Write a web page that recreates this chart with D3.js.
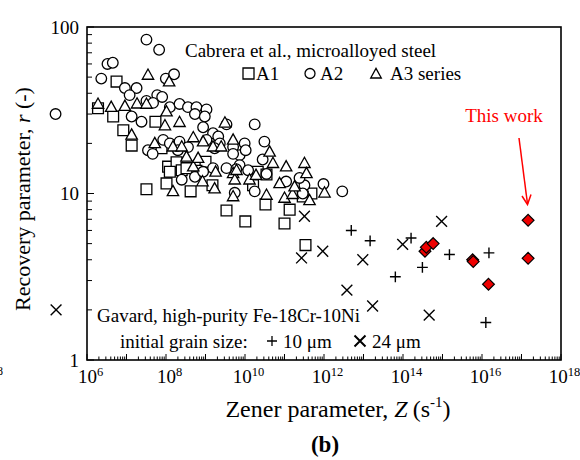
<!DOCTYPE html>
<html>
<head>
<meta charset="utf-8">
<script src="https://cdn.jsdelivr.net/npm/d3@7"></script>
<style>
  body { margin: 0; background: #fff; }
  svg { display: block; font-family: "Liberation Serif", "Times New Roman", serif; }
</style>
</head>
<body>
<div id="chart"></div>
<script>
// Cabrera et al. - A1 series (squares), [Z, r]
var a1 = [[1.9e6,32.5],[5.6e6,47],[4.6e6,29],[8.3e6,24],[1.35e7,19.4],[5.4e7,27],[1.13e8,14.5],
  [1.85e8,15.4],[1.25e8,13.5],[2.5e8,13.8],[1.0e9,15.5],[5.9e8,13.7],[3.2e7,10.6],[1.03e8,11.5],
  [4.2e8,10.3],[3.4e9,7.9],[1.02e10,6.8],[3.3e10,8.6],[1.0e11,6.6],[1.35e11,8.0],[3.4e11,4.9],
  [7.7e7,18.7],[3.3e8,14.2],[2.1e10,13.5],[3.5e10,13],[1.6e10,11.2],[4.8e11,10],[2.9e11,9.6],[1.5e9,11.2]];
// A2 series (circles)
var a2 = [[1.6e5,30],[2.3e6,49],[3.3e6,60],[4.5e6,61],[3.2e7,84],[6.7e7,73],[9.9e7,49],[1.6e8,52],
  [9.1e6,43],[1.8e7,43],[1.2e7,39],[1.35e7,29],[2.4e7,27],[3.2e7,36],[6.0e7,39],[8.0e7,38],[4.7e7,35],
  [1.25e8,33],[2.2e8,34.5],[3.6e8,33],[5.9e8,33],[1.06e9,32],[5.4e8,30],[9.6e8,29],[8.7e8,25],
  [1.55e9,23],[2.1e9,22],[3.4e9,26],[1.76e10,26],[9.8e9,20],[3.1e10,20.5],[3.5e7,18.2],[4.6e7,17.3],
  [8.5e7,21],[1.25e8,20],[2.2e8,20.5],[3.6e8,19],[1.06e9,21],[2.3e9,20],[5.0e9,19],[7.3e9,17],
  [1.04e10,18.2],[5.0e9,17.3],[2.8e10,16],[1.55e9,14.2],[3.4e9,14.2],[7.3e9,14.8],[1.2e10,13.8],
  [3.5e10,13.1],[2.5e8,12.1],[1.76e10,10.3],[5.5e9,10.1],[1.1e11,11.8],[1.7e9,18.7],[3.2e11,11.2],
  [9.7e11,11.4],[2.9e12,10.3],[2.9e11,10],[2.0e8,18.2],[5.4e8,12.6],[8.7e8,13.5],[2.4e11,12.4],[6.0e9,14]];
// A3 series (triangles)
var a3 = [[1.9e6,34.5],[4.1e6,33],[9.1e6,33.5],[1.85e7,34.6],[3.2e7,34.5],[3.5e7,51.5],[1.2e8,47],
  [1.03e8,31],[9.4e7,25.6],[2.2e8,26.8],[3.1e9,26.6],[1.35e7,22.5],[5.2e7,20],[1.5e8,19.1],[4.9e8,21.7],
  [8.7e8,20.5],[1.55e9,19.1],[5.0e9,21],[4.2e10,17.8],[5.1e10,15.2],[1.1e11,14.5],[2.5e8,19.1],
  [4.9e8,14.5],[3.3e8,16.6],[1.5e8,10.3],[8.4e8,11.8],[1.7e9,10.7],[5.0e9,13.2],[5.5e9,12.1],
  [1.3e10,12.1],[5.0e9,9.6],[3.5e10,9.8],[1.0e11,9.4],[1.6e11,9.9],[1.8e9,13.5],[6.1e9,13.8],
  [1.9e10,12.9],[7.5e10,11.5],[1.8e11,11],[3.2e11,15.2],[3.6e11,13.2],[1.03e12,10.1],[4.3e11,9.1],
  [2.5e9,19.1],[6.5e8,16.3]];
// Gavard, initial grain size 10 um (+) and 24 um (x)
var g10 = [[4.9e12,6.0],[1.47e13,5.2],[1.6e14,5.4],[6.4e13,3.16],[3.1e14,3.6],[1.5e15,4.3],[1.5e16,4.4],[1.25e16,1.68]];
var g24 = [[1.65e5,2.0],[3.2e11,7.3],[2.7e11,4.1],[9.3e11,4.5],[9.6e12,4.0],[9.8e13,4.95],[3.8e12,2.63],
  [1.7e13,2.11],[9.5e14,6.8],[4.6e14,1.86]];
// this work (red diamonds)
var thisWork = [[3.6e14,4.5],[3.9e14,4.75],[5.8e14,5.0],[5.8e15,4.0],[6.0e15,3.9],[1.46e16,2.85],[1.47e17,6.9],[1.47e17,4.08]];

var xExps = [6, 8, 10, 12, 14, 16, 18];
var yTicks = [1, 10, 100];

var W = 580, H = 460;
var svg = d3.select('#chart').append('svg').attr('width', W).attr('height', H);

var x = d3.scaleLog().domain([1e6, 1e18]).range([87, 561]);
var y = d3.scaleLog().domain([1, 100]).range([360, 27]);

// minor ticks, pointing inwards
var xMinor = [];
for (var e = 6; e < 18; e++) for (var k = 2; k <= 9; k++) xMinor.push(k * Math.pow(10, e));
var yMinor = [];
for (var e2 = 0; e2 < 2; e2++) for (var k2 = 2; k2 <= 9; k2++) yMinor.push(k2 * Math.pow(10, e2));

var ax = svg.append('g').attr('stroke', '#000').attr('stroke-width', 1);
ax.selectAll('.xm').data(xMinor).enter().append('line')
  .attr('x1', function(d){ return x(d); }).attr('x2', function(d){ return x(d); })
  .attr('y1', 360).attr('y2', 356.5);
ax.selectAll('.xM').data(d3.range(6, 19)).enter().append('line')
  .attr('x1', function(d){ return x(Math.pow(10, d)); }).attr('x2', function(d){ return x(Math.pow(10, d)); })
  .attr('y1', 360).attr('y2', 354);
ax.selectAll('.ym').data(yMinor).enter().append('line')
  .attr('y1', function(d){ return y(d); }).attr('y2', function(d){ return y(d); })
  .attr('x1', 87).attr('x2', 92);
ax.selectAll('.yM').data(yTicks).enter().append('line')
  .attr('y1', function(d){ return y(d); }).attr('y2', function(d){ return y(d); })
  .attr('x1', 87).attr('x2', 94);

// tick labels
var xl = svg.append('g').attr('font-size', 19).attr('text-anchor', 'middle');
xExps.forEach(function(n){
  var t = xl.append('text').attr('x', x(Math.pow(10, n)) + 3.5).attr('y', 383);
  t.append('tspan').text('10');
  t.append('tspan').attr('font-size', 12.5).attr('dy', -7).text(n);
});
svg.append('g').attr('font-size', 19).attr('text-anchor', 'end')
  .selectAll('text').data(yTicks).enter().append('text')
  .attr('x', 79).attr('y', function(d){ return y(d) + 6.5; })
  .text(function(d){ return d; });

// marker shapes
function sq(s){ return 'M' + (-s) + ',' + (-s) + 'H' + s + 'V' + s + 'H' + (-s) + 'Z'; }
function tri(s){ return 'M0,' + (-s * 1.05) + 'L' + s + ',' + (s * 0.75) + 'L' + (-s) + ',' + (s * 0.75) + 'Z'; }
function plus(s){ return 'M' + (-s) + ',0H' + s + 'M0,' + (-s) + 'V' + s; }
function cross(s){ return 'M' + (-s) + ',' + (-s) + 'L' + s + ',' + s + 'M' + s + ',' + (-s) + 'L' + (-s) + ',' + s; }
function dia(s){ return 'M0,' + (-s) + 'L' + s + ',0L0,' + s + 'L' + (-s) + ',0Z'; }

function pts(data, path, fill, sw){
  svg.append('g').selectAll('path').data(data).enter().append('path')
    .attr('transform', function(d){ return 'translate(' + x(d[0]) + ',' + y(d[1]) + ')'; })
    .attr('d', path).attr('fill', fill).attr('stroke', '#000').attr('stroke-width', sw);
}
function circ(data){
  svg.append('g').selectAll('circle').data(data).enter().append('circle')
    .attr('cx', function(d){ return x(d[0]); }).attr('cy', function(d){ return y(d[1]); })
    .attr('r', 5.3).attr('fill', '#fff').attr('stroke', '#000').attr('stroke-width', 1.3);
}

pts(a1, sq(5.4), '#fff', 1.3);
circ(a2);
pts(a3, tri(5.7), '#fff', 1.3);
pts(g10, plus(5.4), 'none', 1.4);
pts(g24, cross(5.4), 'none', 1.4);
pts(thisWork, dia(5.9), '#e00', 1.2);

// frame
svg.append('rect').attr('x', 87).attr('y', 27).attr('width', 474).attr('height', 333)
  .attr('fill', 'none').attr('stroke', '#000').attr('stroke-width', 1.6);

// legends
var lg = svg.append('g').attr('font-size', 19).attr('fill', '#000');
lg.append('text').attr('x', 185).attr('y', 57).text('Cabrera et al., microalloyed steel');
lg.append('path').attr('transform', 'translate(248.5,73.5)').attr('d', sq(5.5)).attr('fill', 'none').attr('stroke', '#000').attr('stroke-width', 1.3);
lg.append('text').attr('x', 256).attr('y', 80).text('A1');
lg.append('circle').attr('cx', 310).attr('cy', 73.5).attr('r', 5).attr('fill', 'none').attr('stroke', '#000').attr('stroke-width', 1.3);
lg.append('text').attr('x', 320).attr('y', 80).text('A2');
lg.append('path').attr('transform', 'translate(376,74)').attr('d', tri(5.3)).attr('fill', 'none').attr('stroke', '#000').attr('stroke-width', 1.3);
lg.append('text').attr('x', 390).attr('y', 80).text('A3 series');

lg.append('text').attr('x', 97).attr('y', 322).text('Gavard, high-purity Fe-18Cr-10Ni');
lg.append('text').attr('x', 120).attr('y', 348).text('initial grain size:');
lg.append('path').attr('transform', 'translate(272,341)').attr('d', plus(5)).attr('stroke', '#000').attr('stroke-width', 1.3);
lg.append('text').attr('x', 283).attr('y', 348).text('10 \u03bcm');
lg.append('path').attr('transform', 'translate(360,341)').attr('d', cross(5.5)).attr('stroke', '#000').attr('stroke-width', 2);
lg.append('text').attr('x', 372).attr('y', 348).text('24 \u03bcm');

// "This work" annotation
svg.append('text').attr('x', 504).attr('y', 122).attr('text-anchor', 'middle')
  .attr('font-size', 19).attr('fill', '#f00').text('This work');
svg.append('line').attr('x1', 519).attr('y1', 138).attr('x2', 527.5).attr('y2', 204)
  .attr('stroke', '#f00').attr('stroke-width', 1.5);
svg.append('path').attr('d', 'M522,196L527.5,204.5L531,194.5')
  .attr('fill', 'none').attr('stroke', '#f00').attr('stroke-width', 1.5);

// axis titles
var yt = svg.append('text').attr('transform', 'translate(30,199) rotate(-90)')
  .attr('text-anchor', 'middle').attr('font-size', 22);
yt.append('tspan').text('Recovery parameter, ');
yt.append('tspan').attr('font-style', 'italic').text('r');
yt.append('tspan').text(' (-)');

var xt = svg.append('text').attr('x', 338).attr('y', 417).attr('text-anchor', 'middle').attr('font-size', 24);
xt.append('tspan').text('Zener parameter, ');
xt.append('tspan').attr('font-style', 'italic').text('Z');
xt.append('tspan').attr('dx', 5).text('(s');
xt.append('tspan').attr('font-size', 15).attr('dy', -10).text('-1');
xt.append('tspan').attr('dy', 10).text(')');

svg.append('text').attr('x', 325).attr('y', 452).attr('text-anchor', 'middle')
  .attr('font-size', 23).attr('font-weight', 'bold').text('(b)');

// fragment of neighbouring panel's label at the left edge
svg.append('text').attr('x', -3).attr('y', 375).attr('font-size', 12).text('8');
</script>
</body>
</html>
